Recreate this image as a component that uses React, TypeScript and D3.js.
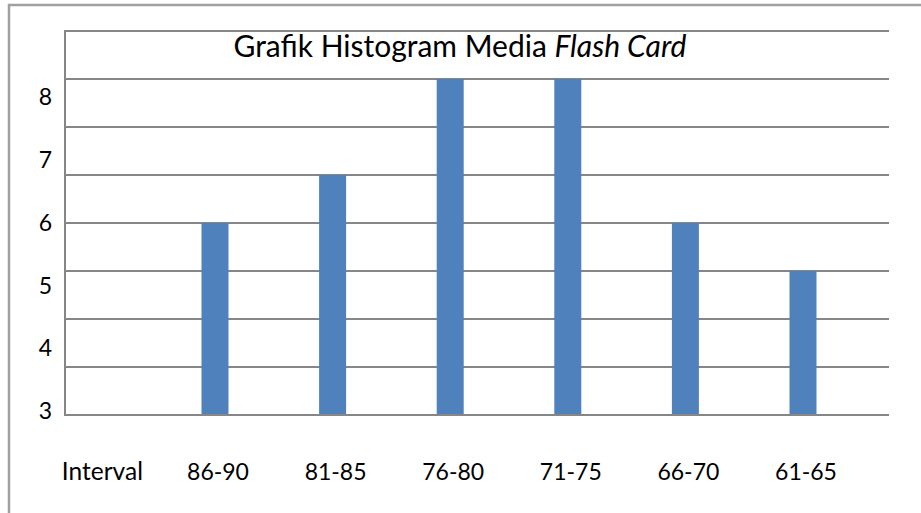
import { useEffect, useRef } from 'react';
import * as d3 from 'd3';

// categories (first slot holds the "Interval" caption only)
const categories = ['Interval', '86-90', '81-85', '76-80', '71-75', '66-70', '61-65'];
// bar heights, in gridline steps above the base line
const barValues = [null, 4, 5, 7, 7, 4, 3];
// y labels typed in beside the axis
const yLabels = [3, 4, 5, 6, 7, 8];
const gridSteps = d3.range(0, 9);

export default function App() {
  const svgRef = useRef<SVGSVGElement>(null);

  useEffect(() => {
    if (!svgRef.current) return;
    const width = 921;
    const height = 513;
    const plot = { left: 65, right: 889, top: 31, bottom: 415 };
    const font = 'Lato, "Open Sans", sans-serif';

    const svg = d3.select(svgRef.current);
    svg.selectAll('*').remove();

    // outer frame
    svg.append('rect')
      .attr('x', 9).attr('y', 5)
      .attr('width', width).attr('height', height)
      .attr('fill', 'white')
      .attr('stroke', '#a0a0a0')
      .attr('stroke-width', 2.5);

    const y = d3.scaleLinear().domain([0, 8]).range([plot.bottom, plot.top]);
    const yLab = d3.scaleLinear().domain([3, 8]).range([411, 97]);

    const step = 117.6;
    const x = d3.scaleBand<string>()
      .domain(categories)
      .range([97.4 - step / 2, 97.4 - step / 2 + step * categories.length])
      .paddingInner(1 - 27 / step)
      .paddingOuter((1 - 27 / step) / 2);

    // gridlines
    svg.append('g')
      .selectAll('line')
      .data(gridSteps)
      .join('line')
      .attr('x1', plot.left).attr('x2', plot.right)
      .attr('y1', (d) => y(d)).attr('y2', (d) => y(d))
      .attr('stroke', '#868686')
      .attr('stroke-width', 2);

    // left axis line
    svg.append('line')
      .attr('x1', plot.left).attr('x2', plot.left)
      .attr('y1', plot.top - 1).attr('y2', plot.bottom + 1)
      .attr('stroke', '#868686')
      .attr('stroke-width', 2);

    // bars
    const bars = categories.map((c, i) => ({ c, v: barValues[i] })).filter((d) => d.v != null);
    svg.append('g')
      .selectAll('rect')
      .data(bars)
      .join('rect')
      .attr('x', (d) => x(d.c)!)
      .attr('width', x.bandwidth())
      .attr('y', (d) => y(d.v as number))
      .attr('height', (d) => y(0) - y(d.v as number) - 1)
      .attr('fill', '#4f81bd');

    // y labels
    svg.append('g')
      .selectAll('text')
      .data(yLabels)
      .join('text')
      .attr('x', 52)
      .attr('y', (d) => yLab(d))
      .attr('dy', '0.36em')
      .attr('text-anchor', 'end')
      .attr('font-family', font)
      .attr('font-size', 23)
      .attr('fill', '#000')
      .text((d) => d);

    // x labels
    svg.append('g')
      .selectAll('text')
      .data(categories)
      .join('text')
      .attr('x', (d) => x(d)! + x.bandwidth() / 2 + (d === 'Interval' ? 5 : 3))
      .attr('y', 480)
      .attr('text-anchor', 'middle')
      .attr('font-family', font)
      .attr('font-size', d => (d === 'Interval' ? 24.5 : 23))
      .attr('fill', '#000')
      .text((d) => d);

    // title
    const title = svg.append('text')
      .attr('x', 460)
      .attr('y', 57)
      .attr('text-anchor', 'middle')
      .attr('font-family', font)
      .attr('font-size', 30)
      .attr('fill', '#000');
    title.append('tspan').text('Grafik Histogram Media ');
    title.append('tspan').attr('font-style', 'italic').text('Flash Card');
  }, []);

  return (
    <svg
      ref={svgRef}
      width={921}
      height={513}
      style={{ position: 'absolute', left: 0, top: 0, background: 'white' }}
    />
  );
}
